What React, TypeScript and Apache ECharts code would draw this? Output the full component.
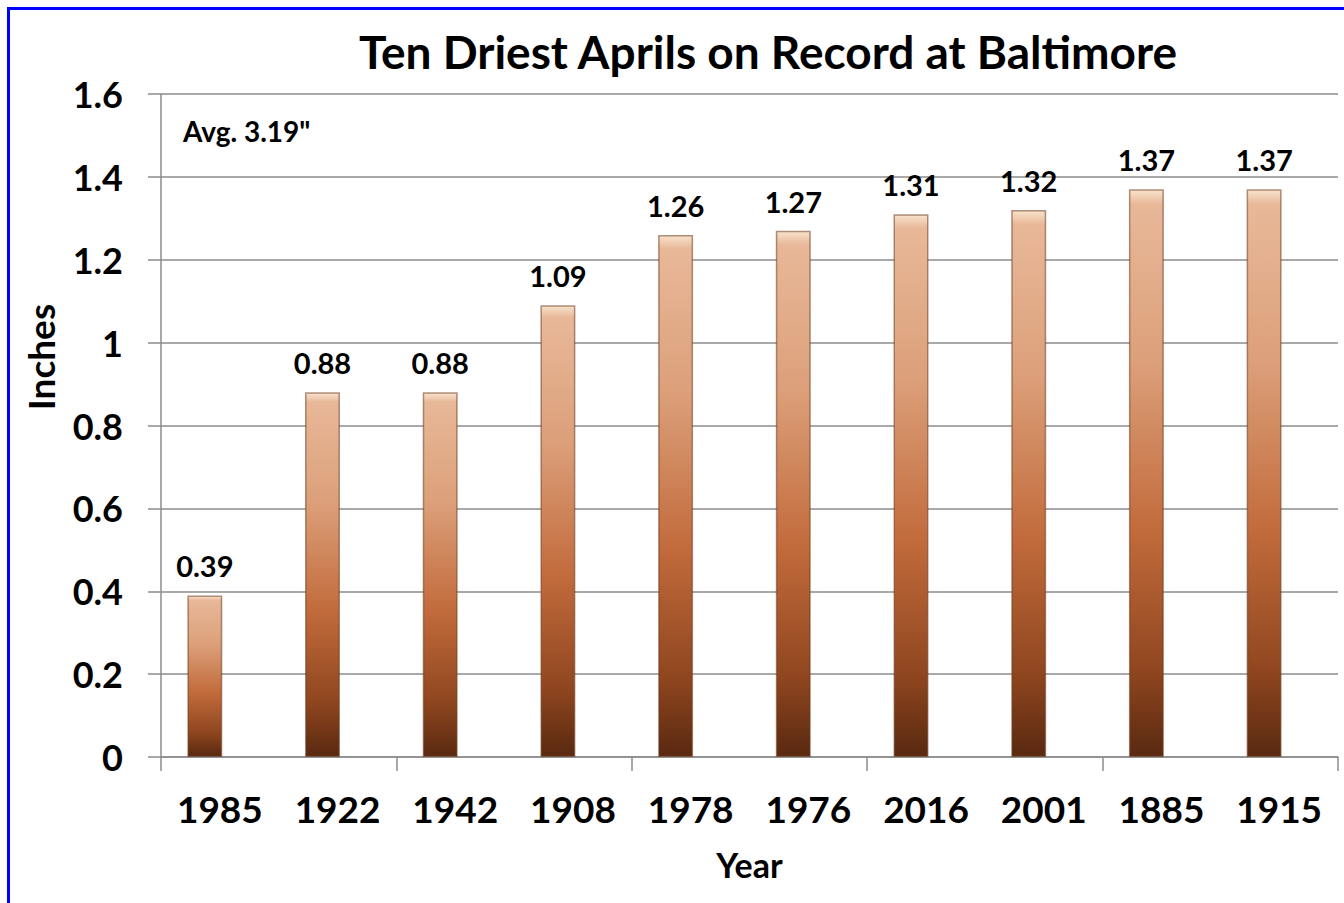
import React, { useEffect, useRef } from "react";
import * as echarts from "echarts";

const years = ["1985", "1922", "1942", "1908", "1978", "1976", "2016", "2001", "1885", "1915"];
const inches = [0.39, 0.88, 0.88, 1.09, 1.26, 1.27, 1.31, 1.32, 1.37, 1.37];
const emptySeries = years.map(() => null);
const tickGroups = ["", "", "", "", ""];
const titleText = "Ten Driest Aprils on Record at Baltimore";
const noteText = 'Avg. 3.19"';
const yName = "Inches";
const xName = "Year";

const FONT = "Lato, 'Open Sans', sans-serif";
const GRAY = "#8c8c8c";

export default function App() {
  const ref = useRef<HTMLDivElement>(null);
  useEffect(() => {
    if (!ref.current) return;
    const chart = echarts.init(ref.current, null, { renderer: "svg" });
    chart.setOption({
      animation: false,
      backgroundColor: "#ffffff",
      grid: { left: 161, right: 6, top: 94, bottom: 146, containLabel: false },
      graphic: [
        {
          type: "text",
          x: 768,
          y: 51,
          style: {
            text: titleText,
            font: `bold 46px ${FONT}`,
            fill: "#000",
            textAlign: "center",
            textVerticalAlign: "middle",
          },
        },
        {
          type: "text",
          x: 183,
          y: 131,
          style: {
            text: noteText,
            font: `bold 28px ${FONT}`,
            fill: "#000",
            textAlign: "left",
            textVerticalAlign: "middle",
          },
        },
        {
          type: "text",
          x: 40,
          y: 357,
          rotation: Math.PI / 2,
          style: {
            text: yName,
            font: `bold 37px ${FONT}`,
            fill: "#000",
            textAlign: "center",
            textVerticalAlign: "middle",
          },
        },
      ],
      xAxis: [
        {
          type: "category",
          data: years,
          name: xName,
          nameLocation: "middle",
          nameGap: 90,
          nameTextStyle: { fontFamily: FONT, fontWeight: "bold", fontSize: 34, color: "#000" },
          axisLine: { show: true, lineStyle: { color: GRAY, width: 1.5 } },
          axisTick: { show: false },
          axisLabel: { margin: 33, fontFamily: FONT, fontWeight: "bold", fontSize: 37, color: "#000", interval: 0 },
          splitLine: { show: false },
        },
        {
          type: "category",
          data: tickGroups,
          position: "bottom",
          axisLine: { show: false },
          axisTick: { show: true, length: 14, lineStyle: { color: GRAY, width: 1.5 } },
          axisLabel: { show: false },
          splitLine: { show: false },
        },
      ],
      yAxis: {
        type: "value",
        min: 0,
        max: 1.6,
        interval: 0.2,
        axisLine: { show: true, lineStyle: { color: GRAY, width: 1.5 } },
        axisTick: { show: true, length: 13, lineStyle: { color: GRAY, width: 1.5 } },
        axisLabel: { margin: 38, fontFamily: FONT, fontWeight: "bold", fontSize: 36, color: "#000" },
        splitLine: { show: true, lineStyle: { color: GRAY, width: 1.5 } },
      },
      series: [
        {
          type: "bar",
          data: inches,
          barWidth: 35,
          barGap: "-14%",
          itemStyle: {
            borderColor: "rgba(110,60,30,0.55)",
            borderWidth: 1.5,
            color: new echarts.graphic.LinearGradient(0, 0, 0, 1, [
              { offset: 0, color: "#f8e2cc" },
              { offset: 0.025, color: "#e8b899" },
              { offset: 0.3, color: "#dca07a" },
              { offset: 0.6, color: "#c26b3c" },
              { offset: 0.85, color: "#8f461f" },
              { offset: 1, color: "#592910" },
            ]),
          },
          label: {
            show: true,
            position: "top",
            distance: 15,
            fontFamily: FONT,
            fontWeight: "bold",
            fontSize: 29,
            color: "#000",
            formatter: (p: any) => p.value.toFixed(2),
          },
        },
        {
          type: "bar",
          data: emptySeries,
          barWidth: 35,
          itemStyle: { color: "transparent" },
        },
      ],
    });
    return () => chart.dispose();
  }, []);
  return (
    <div style={{ position: "absolute", left: 0, top: 0, width: 1344, height: 903, background: "#fff" }}>
      <div ref={ref} style={{ position: "absolute", left: 0, top: 0, width: 1344, height: 903 }} />
      <div
        style={{
          position: "absolute",
          left: 7,
          top: 7,
          width: 1344,
          height: 903,
          borderLeft: "3px solid #0000ff",
          borderTop: "3px solid #0000ff",
          pointerEvents: "none",
        }}
      />
    </div>
  );
}
